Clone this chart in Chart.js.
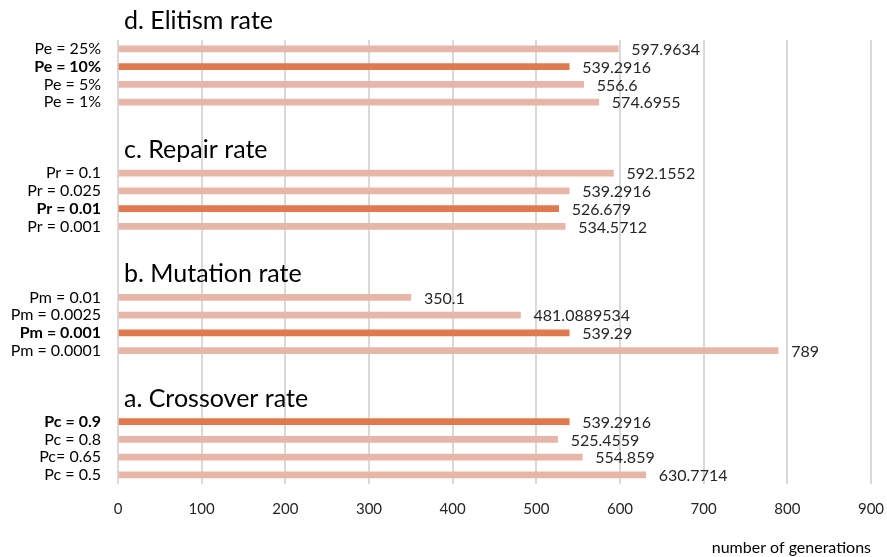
<!DOCTYPE html>
<html>
<head>
<meta charset="utf-8">
<script src="https://cdn.jsdelivr.net/npm/chart.js@4/dist/chart.umd.min.js"></script>
<style>
  html, body { margin: 0; padding: 0; background: #ffffff; }
  #wrap { width: 887px; height: 557px; position: relative; }
</style>
</head>
<body>
<div id="wrap"><canvas id="c"></canvas></div>
<script>
// ---- Data (top to bottom) ----
const groupTitles = ["d. Elitism rate", "c. Repair rate", "b. Mutation rate", "a. Crossover rate"];
const elitismLabels  = ["Pe = 25%", "Pe = 10%", "Pe = 5%", "Pe = 1%"];
const elitismValues  = [597.9634, 539.2916, 556.6, 574.6955];
const repairLabels   = ["Pr = 0.1", "Pr = 0.025", "Pr = 0.01", "Pr = 0.001"];
const repairValues   = [592.1552, 539.2916, 526.679, 534.5712];
const mutationLabels = ["Pm = 0.01", "Pm = 0.0025", "Pm = 0.001", "Pm = 0.0001"];
const mutationValues = [350.1, 481.0889534, 539.29, 789];
const crossoverLabels = ["Pc = 0.9", "Pc = 0.8", "Pc= 0.65", "Pc = 0.5"];
const crossoverValues = [539.2916, 525.4559, 554.859, 630.7714];
// chosen (bold / dark) setting in each group
const chosenLabels = ["Pe = 10%", "Pr = 0.01", "Pm = 0.001", "Pc = 0.9"];
const xTicks = [0, 100, 200, 300, 400, 500, 600, 700, 800, 900];
const xAxisTitle = "number of generations";

// ---- Build rows: 4 bars per group, 3 blank rows between groups ----
const groups = [
  [elitismLabels, elitismValues],
  [repairLabels, repairValues],
  [mutationLabels, mutationValues],
  [crossoverLabels, crossoverValues]
];
const labels = [], values = [], groupStart = [];
groups.forEach((g, gi) => {
  if (gi > 0) { for (let k = 0; k < 3; k++) { labels.push(""); values.push(null); } }
  groupStart.push(labels.length);
  g[0].forEach((l, i) => { labels.push(l); values.push(g[1][i]); });
});

const DARK = "#E0794E";
const LIGHT = "#E8B6A9";
const FONT = "Lato, 'Open Sans', sans-serif";

const titlesAndLabels = {
  id: "titlesAndLabels",
  afterDatasetsDraw(chart) {
    const ctx = chart.ctx;
    const xs = chart.scales.x, ys = chart.scales.y;
    ctx.save();
    // value labels
    ctx.font = "16px " + FONT;
    ctx.fillStyle = "#262626";
    ctx.textAlign = "left";
    ctx.textBaseline = "middle";
    values.forEach((v, i) => {
      if (v === null) return;
      ctx.fillText(String(v), xs.getPixelForValue(v) + 13, ys.getPixelForValue(i) + 1);
    });
    // group titles
    ctx.font = "25px " + FONT;
    ctx.fillStyle = "#000000";
    ctx.textBaseline = "alphabetic";
    groupTitles.forEach((t, gi) => {
      const y = gi === 0 ? ys.getPixelForValue(groupStart[0]) - 20 : ys.getPixelForValue(groupStart[gi]) - 15;
      ctx.fillText(t, xs.left + 6, y);
    });
    ctx.restore();
  }
};

new Chart(document.getElementById("c"), {
  type: "bar",
  data: {
    labels: labels,
    datasets: [{
      data: values,
      backgroundColor: labels.map(l => chosenLabels.includes(l) ? DARK : LIGHT),
      barThickness: 6,
      borderWidth: 0
    }]
  },
  plugins: [titlesAndLabels],
  options: {
    indexAxis: "y",
    responsive: true,
    maintainAspectRatio: false,
    animation: false,
    layout: { padding: { top: 40, left: 8, right: 16, bottom: 0 } },
    plugins: { legend: { display: false }, tooltip: { enabled: false } },
    scales: {
      x: {
        min: 0, max: 900,
        afterBuildTicks: s => { s.ticks = xTicks.map(v => ({ value: v })); },
        afterFit: s => { s.paddingLeft = 0; s.paddingRight = 0; },
        grid: { color: "#D9D9D9", lineWidth: 2, drawTicks: false },
        border: { display: false },
        ticks: { color: "#262626", font: { family: FONT, size: 15 }, padding: 16 },
        title: {
          display: true, text: xAxisTitle, align: "end",
          color: "#000000", font: { family: FONT, size: 16 },
          padding: { top: 4, bottom: 0 }
        }
      },
      y: {
        grid: { display: false, drawTicks: false },
        border: { display: false },
        afterFit: s => { s.width = 110; },
        ticks: {
          autoSkip: false,
          padding: 17,
          color: "#000000",
          font: ctx => ({
            family: FONT, size: 16,
            weight: chosenLabels.includes(labels[ctx.index]) ? "bold" : "normal"
          })
        }
      }
    }
  }
});
</script>
</body>
</html>
